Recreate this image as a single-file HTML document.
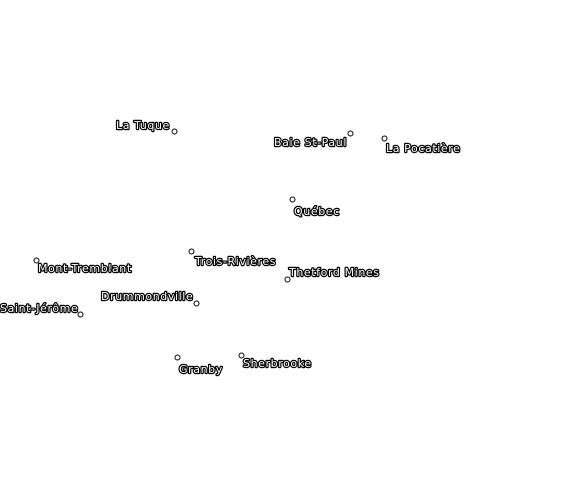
<!DOCTYPE html>
<html><head><style>
html,body{margin:0;padding:0;background:#fff;}
svg{display:block;}
text{font-family:"DejaVu Sans",sans-serif;font-size:11px;letter-spacing:0.6px;fill:#fff;stroke:#000;stroke-width:2.4px;paint-order:stroke;stroke-linejoin:round;}
circle{fill:#fff;stroke:#000;stroke-width:1;}
</style></head><body>
<svg width="580" height="480" viewBox="0 0 580 480">
<circle cx="174.5" cy="131.5" r="2.5"/><text x="116" y="129">La Tuque</text>
<circle cx="350.5" cy="133.5" r="2.5"/><text x="274" y="146">Baie St-Paul</text>
<circle cx="384.5" cy="138.5" r="2.5"/><text x="386" y="152">La Pocatière</text>
<circle cx="292.5" cy="199.5" r="2.5"/><text x="294" y="215">Québec</text>
<circle cx="191.5" cy="251.5" r="2.5"/><text x="195" y="265">Trois-Rivières</text>
<circle cx="287.5" cy="279.5" r="2.5"/><text x="289" y="276">Thetford Mines</text>
<circle cx="36.5" cy="260.5" r="2.5"/><text x="38" y="272">Mont-Tremblant</text>
<circle cx="196.5" cy="303.5" r="2.5"/><text x="101" y="300">Drummondville</text>
<circle cx="80.5" cy="314.5" r="2.5"/><text x="0" y="312">Saint-Jérôme</text>
<circle cx="177.5" cy="357.5" r="2.5"/><text x="179" y="373">Granby</text>
<circle cx="241.5" cy="355.5" r="2.5"/><text x="243" y="367">Sherbrooke</text>
</svg>
</body></html>
